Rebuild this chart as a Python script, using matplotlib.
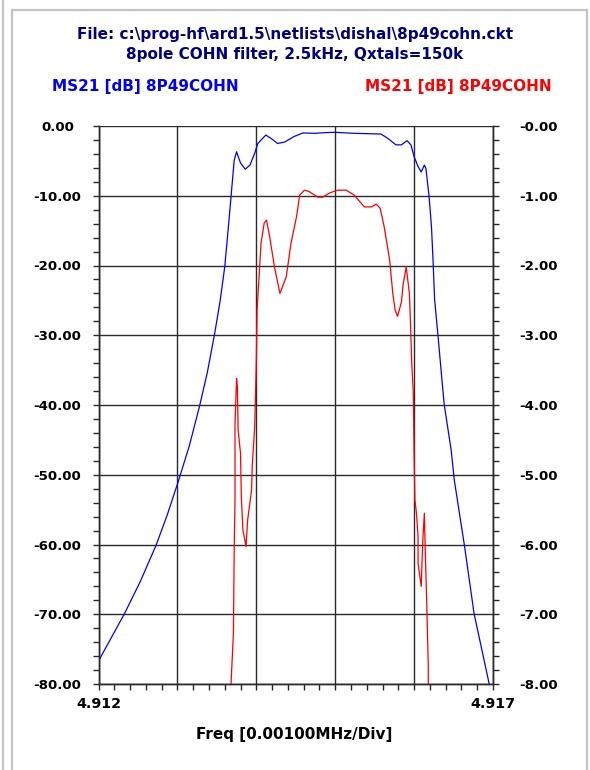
import matplotlib
matplotlib.use("Agg")
import matplotlib.pyplot as plt
from matplotlib.patches import Rectangle
from matplotlib.ticker import MultipleLocator

# MS21 in dB, left scale (0 .. -80 dB)
blue_freq = [4.91200, 4.91217, 4.91233, 4.91253, 4.91273, 4.91287, 4.91301, 4.91315,
             4.91328, 4.91338, 4.91347, 4.91354, 4.91360, 4.91365, 4.91368, 4.91372,
             4.91375, 4.91380, 4.91386, 4.91392, 4.91398, 4.91402, 4.91412, 4.91419,
             4.91427, 4.91436, 4.91448, 4.91459, 4.91474, 4.91486, 4.91499, 4.91524,
             4.91558, 4.91567, 4.91577, 4.91584, 4.91591, 4.91596, 4.91600, 4.91605,
             4.91609, 4.91613, 4.91615, 4.91619, 4.91622, 4.91624, 4.91626, 4.91630,
             4.91638, 4.91647, 4.91651, 4.91664, 4.91676, 4.91695, 4.91700]
blue_db = [-76.7, -73.2, -69.9, -65.3, -60.1, -55.8, -51.0, -45.9,
           -40.2, -35.3, -29.9, -25.2, -20.2, -14.0, -10.1, -4.9,
           -3.7, -5.3, -6.2, -5.6, -3.9, -2.5, -1.3, -1.8,
           -2.5, -2.3, -1.5, -1.0, -1.05, -0.96, -0.9, -1.05,
           -1.15, -1.8, -2.7, -2.7, -2.1, -2.7, -4.4, -5.8,
           -6.6, -5.6, -6.1, -10.1, -14.4, -19.2, -24.9, -29.7,
           -39.8, -46.5, -50.8, -60.3, -69.9, -79.9, -82.3]

# MS21 in dB, right scale (0 .. -8 dB)
red_freq = [4.91367, 4.91368, 4.91371, 4.91372, 4.91373, 4.91373, 4.91375, 4.91376,
            4.91377, 4.91380, 4.91381, 4.91383, 4.91387, 4.91389, 4.91394, 4.91395,
            4.91398, 4.91400, 4.91401, 4.91406, 4.91410, 4.91413, 4.91417, 4.91423,
            4.91430, 4.91438, 4.91444, 4.91451, 4.91455, 4.91461, 4.91467, 4.91478,
            4.91484, 4.91493, 4.91503, 4.91514, 4.91524, 4.91537, 4.91546, 4.91552,
            4.91557, 4.91562, 4.91569, 4.91573, 4.91576, 4.91579, 4.91584, 4.91586,
            4.91590, 4.91594, 4.91595, 4.91597, 4.91599, 4.91600, 4.91601, 4.91603,
            4.91605, 4.91605, 4.91609, 4.91611, 4.91613, 4.91614, 4.91616, 4.91618,
            4.91618]
red_db = [-8.3, -7.99, -7.27, -6.08, -5.36, -4.26, -3.62, -3.74,
          -4.36, -4.69, -5.31, -5.79, -6.03, -5.65, -5.22, -4.84,
          -4.31, -3.40, -2.64, -1.68, -1.39, -1.35, -1.59, -2.02,
          -2.40, -2.16, -1.68, -1.30, -0.99, -0.92, -0.94, -1.02,
          -1.02, -0.96, -0.92, -0.92, -0.99, -1.16, -1.16, -1.12,
          -1.18, -1.44, -1.92, -2.40, -2.64, -2.73, -2.52, -2.28,
          -2.02, -2.40, -2.69, -3.40, -3.83, -4.69, -5.36, -5.55,
          -5.89, -6.27, -6.60, -5.94, -5.55, -6.03, -6.84, -7.75,
          -8.23]

x_ticks = [4.912, 4.913, 4.914, 4.915, 4.916, 4.917]
x_labels = ["4.912", "", "", "", "", "4.917"]
left_ticks = [0, -10, -20, -30, -40, -50, -60, -70, -80]
left_labels = ["0.00", "-10.00", "-20.00", "-30.00", "-40.00",
               "-50.00", "-60.00", "-70.00", "-80.00"]
right_ticks = [0, -1, -2, -3, -4, -5, -6, -7, -8]
right_labels = ["-0.00", "-1.00", "-2.00", "-3.00", "-4.00",
                "-5.00", "-6.00", "-7.00", "-8.00"]

W, H = 590, 770
fig = plt.figure(figsize=(W / 100, H / 100), dpi=100)
fig.patch.set_facecolor("white")

def px(x, y):
    return x / W, 1 - y / H

# grey panel frame
fig.patches.append(Rectangle(px(12, 780), (587 - 12) / W, (780 - 10) / H,
                             transform=fig.transFigure, fill=False,
                             edgecolor="#c4c4c4", lw=1.6))
fig.lines.append(plt.Line2D([3 / W, 3 / W], [0, 1], transform=fig.transFigure,
                            color="#c4c4c4", lw=1.6))

left, right, top, bottom = 98.5, 493, 126, 684
ax = fig.add_axes([left / W, 1 - bottom / H, (right - left) / W, (bottom - top) / H])
ax2 = ax.twinx()

ax.plot(blue_freq, blue_db, color="#0000ff", lw=0.9)
ax2.plot(red_freq, red_db, color="#ff0000", lw=0.9)

ax.set_xlim(4.912, 4.917)
ax.set_ylim(-80, 0)
ax2.set_ylim(-8, 0)

font = dict(family="DejaVu Sans", weight="bold", size=9.6)
big = dict(family="DejaVu Sans", weight="bold", size=11)

ax.set_xticks(x_ticks)
ax.set_xticklabels(x_labels, family="DejaVu Sans", weight="bold", size=10.3)
ax.xaxis.set_minor_locator(MultipleLocator(0.0002))
ax.set_yticks(left_ticks)
ax.set_yticklabels(left_labels, ha="center", **font)
ax.yaxis.set_minor_locator(MultipleLocator(2))
ax2.set_yticks(right_ticks)
ax2.set_yticklabels(right_labels, ha="center", **font)
ax2.yaxis.set_minor_locator(MultipleLocator(0.2))

ax.grid(True, which="major", color="#2a2a2a", lw=1.0)
for a in (ax, ax2):
    for s in a.spines.values():
        s.set_color("#2a2a2a")
        s.set_linewidth(1.0)
    a.tick_params(which="both", direction="out", length=4, width=1.0, color="#2a2a2a")
ax.spines["top"].set_visible(False)
ax2.spines["top"].set_visible(False)
ax.tick_params(axis="y", pad=25.5)
ax2.tick_params(axis="y", pad=29)
ax.tick_params(axis="x", pad=5)

# titles and series labels
fig.text(*px(295, 35), "File: c:\\prog-hf\\ard1.5\\netlists\\dishal\\8p49cohn.ckt",
         ha="center", va="center", color="#000080", **big)
fig.text(*px(295, 55), "8pole COHN filter, 2.5kHz, Qxtals=150k",
         ha="center", va="center", color="#000080", **big)
fig.text(*px(52, 86), "MS21 [dB] 8P49COHN", ha="left", va="center",
         color="#0000ff", **big)
fig.text(*px(365, 86), "MS21 [dB] 8P49COHN", ha="left", va="center",
         color="#ff0000", **big)
fig.text(*px(294, 734), "Freq [0.00100MHz/Div]", ha="center", va="center",
         color="black", **big)

fig.savefig("out.png", dpi=100)
